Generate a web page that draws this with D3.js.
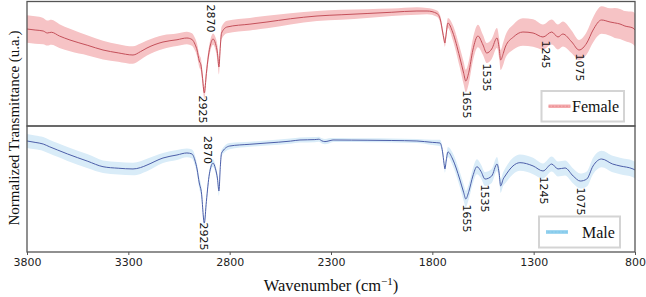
<html>
<head>
<style>
  body { margin: 0; background: #fff; }
  .tick text { font-family: "DejaVu Sans", sans-serif; font-size: 11px; fill: #222; }
  .serif { font-family: "Liberation Serif", "DejaVu Serif", serif; fill: #111; }
  .peak { font-family: "DejaVu Sans", sans-serif; font-size: 11px; fill: #111; }
</style>
</head>
<body>
<script src="https://cdn.jsdelivr.net/npm/d3@7"></script>
<svg id="chart" width="646" height="297"></svg>
<script>
// female spectrum: wavenumber, mean transmittance, std
let femaleWn = [3800,3760,3720,3700,3680,3640,3588,3500,3425,3350,3277,3240,3208,3129,3060,3011,2986,2970,2961,2950,2942,2935,2925,2915,2905,2895,2882,2870,2860,2853,2846,2840,2813,2700,2616,2500,2369,2250,2122,2000,1876,1826,1777,1760,1750,1742,1738,1733,1723,1700,1665,1645,1635,1620,1600,1575,1550,1532,1507,1481,1470,1463,1450,1440,1400,1353,1303,1254,1211,1180,1156,1112,1076,1038,1007,965,923,900,874,850,810,800];
let femaleT = [.776,.768,.76,.744,.75,.72,.688,.645,.608,.585,.568,.595,.624,.672,.69,.704,.692,.65,.608,.52,.49,.40,.264,.42,.56,.648,.696,.66,.58,.472,.64,.744,.792,.815,.832,.858,.88,.89,.90,.91,.92,.92,.90,.848,.76,.69,.664,.72,.824,.752,.552,.42,.36,.43,.608,.72,.648,.584,.616,.704,.62,.528,.58,.632,.712,.752,.744,.712,.752,.712,.736,.672,.608,.664,.768,.848,.832,.825,.816,.80,.784,.768];
let femaleSd = [.11,.11,.105,.10,.10,.095,.09,.08,.075,.07,.07,.065,.06,.055,.05,.05,.05,.05,.05,.05,.05,.05,.05,.05,.045,.045,.045,.05,.06,.06,.05,.05,.05,.05,.05,.045,.04,.04,.035,.03,.03,.025,.025,.03,.03,.03,.03,.035,.04,.06,.08,.09,.09,.09,.09,.09,.08,.08,.08,.08,.08,.08,.09,.09,.10,.11,.11,.10,.10,.10,.10,.09,.08,.09,.10,.11,.11,.12,.12,.12,.13,.13];

// male spectrum
let maleWn = [3800,3760,3720,3690,3650,3600,3500,3425,3350,3277,3240,3208,3129,3060,3011,2986,2970,2961,2950,2940,2925,2915,2900,2882,2870,2860,2853,2846,2840,2800,2700,2616,2500,2453,2380,2360,2345,2330,2310,2290,2200,2122,2000,1876,1800,1762,1750,1742,1738,1732,1723,1700,1665,1645,1635,1620,1600,1580,1560,1540,1507,1481,1470,1463,1450,1441,1402,1368,1303,1254,1211,1180,1145,1105,1070,1038,1007,965,910,874,810,800];
let maleT = [.881,.87,.857,.836,.81,.778,.72,.677,.665,.659,.67,.69,.746,.77,.786,.778,.72,.659,.548,.48,.23,.40,.62,.706,.66,.58,.484,.68,.786,.841,.855,.865,.88,.889,.892,.895,.882,.876,.882,.889,.888,.887,.885,.881,.87,.865,.80,.70,.659,.72,.794,.738,.579,.47,.421,.48,.603,.677,.64,.579,.603,.698,.62,.524,.58,.603,.683,.709,.683,.643,.698,.659,.667,.603,.563,.579,.683,.738,.698,.683,.659,.651];
let maleSd = [.055,.055,.055,.055,.055,.055,.055,.05,.05,.05,.05,.05,.04,.04,.035,.035,.04,.04,.045,.045,.035,.03,.03,.03,.03,.035,.04,.03,.025,.025,.02,.02,.02,.02,.02,.02,.02,.02,.02,.015,.015,.015,.015,.015,.02,.025,.03,.03,.03,.035,.04,.05,.06,.065,.065,.06,.06,.06,.055,.055,.055,.055,.055,.055,.055,.06,.065,.065,.065,.06,.06,.06,.06,.06,.06,.06,.065,.065,.065,.065,.065,.065];

// peak labels
let peakText = ["2870","2925","1655","1535","1245","1075"];
let peakWnFemale = [2897,2932,1631,1532,1244,1076];
let peakTFemale = [.86,.132,.172,.388,.572,.468];
let peakWnMale = [2907,2927,1631,1541,1253,1069];
let peakTMale = [.81,.123,.266,.425,.488,.401];

let xTicks = [3800,3300,2800,2300,1800,1300,800];

let svg = d3.select("#chart");
let left = 27, right = 635;
let x = d3.scaleLinear().domain([3800, 800]).range([left, right]);
let yTop = d3.scaleLinear().domain([0, 1]).range([126, 1]);
let yBot = d3.scaleLinear().domain([0, 1]).range([252, 126]);

function drawPanel(wn, t, sd, y, lineColor, bandColor, id){
    let rows = wn.map((w, i) => ({w: w, t: t[i], s: sd[i]}));
    let r = y.range();
    svg.append("clipPath").attr("id", id)
        .append("rect").attr("x", left).attr("y", r[1]).attr("width", right - left).attr("height", r[0] - r[1]);
    let g = svg.append("g").attr("clip-path", "url(#" + id + ")");
    let area = d3.area()
        .x(d => x(d.w))
        .y0(d => y(d.t - d.s))
        .y1(d => y(d.t + d.s))
        .curve(d3.curveMonotoneX);
    let line = d3.line()
        .x(d => x(d.w))
        .y(d => y(d.t))
        .curve(d3.curveMonotoneX);
    g.append("path").datum(rows).attr("d", area).attr("fill", bandColor);
    g.append("path").datum(rows).attr("d", line)
        .attr("fill", "none").attr("stroke", lineColor).attr("stroke-width", 1);
}

drawPanel(femaleWn, femaleT, femaleSd, yTop, "#c4505a", "#f6c3c5", "clipTop");
drawPanel(maleWn, maleT, maleSd, yBot, "#4c5ea9", "#d9ecf8", "clipBot");

function drawPeaks(wns, ts, y){
    svg.append("g").selectAll("text").data(peakText).enter()
        .append("text")
        .attr("class", "peak")
        .attr("text-anchor", "middle")
        .attr("dominant-baseline", "central")
        .attr("transform", (d, i) => "translate(" + x(wns[i]) + "," + y(ts[i]) + ") rotate(90)")
        .text(d => d);
}
drawPeaks(peakWnFemale, peakTFemale, yTop);
drawPeaks(peakWnMale, peakTMale, yBot);

// frames
svg.append("rect").attr("x", left).attr("y", 1.5).attr("width", right - left).attr("height", 124.5)
    .attr("fill", "none").attr("stroke", "#555").attr("stroke-width", 1.3);
svg.append("rect").attr("x", left).attr("y", 126).attr("width", right - left).attr("height", 126)
    .attr("fill", "none").attr("stroke", "#555").attr("stroke-width", 1.3);

// x axis
let xAxis = d3.axisBottom(x).tickValues(xTicks).tickSize(3).tickPadding(3).tickFormat(d3.format("d"));
svg.append("g").attr("transform", "translate(0,252)").call(xAxis)
    .call(g => g.select(".domain").remove())
    .call(g => g.selectAll("line").attr("stroke", "#555"));

// legends
function legend(lx, ly, w, h, label, tx, bandColor, lineColor){
    let g = svg.append("g");
    g.append("rect").attr("x", lx).attr("y", ly).attr("width", w).attr("height", h)
        .attr("fill", "#fff").attr("fill-opacity", 0.85).attr("stroke", "#d4d4d4").attr("stroke-width", 2);
    g.append("line").attr("x1", lx + 7).attr("x2", lx + 29).attr("y1", ly + h / 2).attr("y2", ly + h / 2)
        .attr("stroke", bandColor).attr("stroke-width", 3.5);
    g.append("line").attr("x1", lx + 7).attr("x2", lx + 29).attr("y1", ly + h / 2).attr("y2", ly + h / 2)
        .attr("stroke", lineColor).attr("stroke-width", 0.6).attr("stroke-dasharray", "2,1.5");
    g.append("text").attr("class", "serif").attr("x", tx).attr("y", ly + h / 2)
        .attr("dominant-baseline", "central").style("font-size", "16px").text(label);
}
legend(541.5, 91, 82.5, 30.5, "Female", 572, "#f4a9ac", "#e07f84");
legend(539, 216.5, 81, 31, "Male", 582, "#86cbec", "#a9dbf2");

// axis titles
svg.append("text").attr("class", "serif")
    .attr("x", 331).attr("y", 291).attr("text-anchor", "middle")
    .style("font-size", "16.5px")
    .html("Wavenumber (cm<tspan dy='-6' font-size='11px'>\u22121</tspan><tspan dy='6'>)</tspan>");
svg.append("text").attr("class", "serif")
    .attr("transform", "translate(13.5,128) rotate(-90)")
    .attr("text-anchor", "middle")
    .attr("dominant-baseline", "central")
    .style("font-size", "15px")
    .text("Normalized Transmittance (u.a.)");
</script>
</body>
</html>
